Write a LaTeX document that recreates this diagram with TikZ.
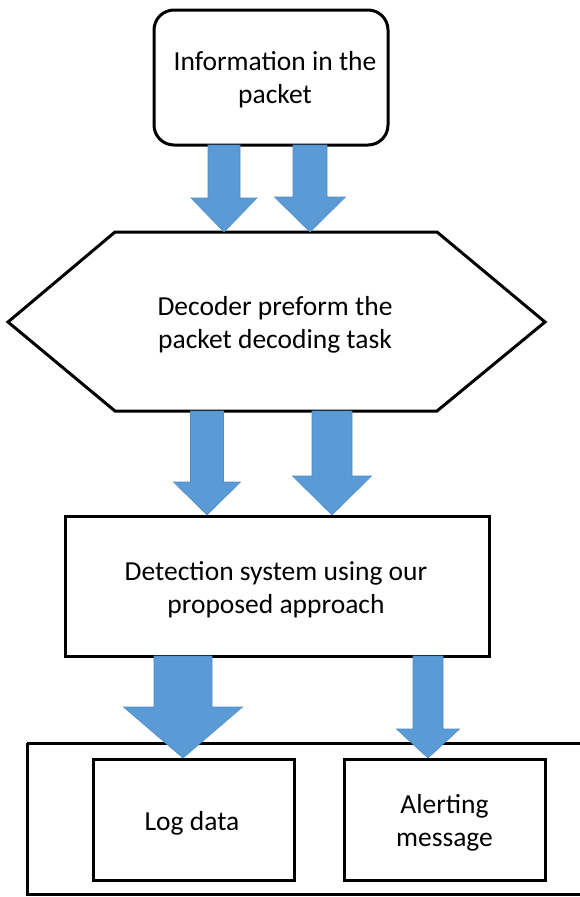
\documentclass[tikz,border=0pt]{standalone}
\usepackage{fontspec}
\setmainfont{Carlito}
\begin{document}
\begin{tikzpicture}[x=1pt,y=-1pt,
  box/.style={draw=black,line width=3pt,fill=white},
  label/.style={font=\fontsize{27.5}{33}\selectfont,align=center,inner sep=0pt},
  arrowfill/.style={fill={rgb,255:red,91;green,155;blue,213},draw={rgb,255:red,80;green,140;blue,200},line width=0.6pt}]
\useasboundingbox (0,0) rectangle (579,897);
\newcommand\blockarrow[7]{% centre x, top y, tip y, shaft half width, head half width, head start y, name
  \fill[arrowfill] ({#1-#4},#2) -- ({#1+#4},#2) -- ({#1+#4},#6) -- ({#1+#5},#6)
    -- (#1,#3) coordinate (#7) -- ({#1-#5},#6) -- ({#1-#4},#6) -- cycle;}

% packet information
\draw[box,rounded corners=20pt] (154,10) rectangle (388,145);
\node[label] (info) at (275,80) {Information in the\\packet};

% decoder
\draw[box,line join=miter] (115,232) -- (437,232) -- (545,322) -- (437,411)
  -- (115,411) -- (8,322) -- cycle;
\node[label] (dec) at (275,325) {Decoder preform the\\packet decoding task};

% detection system
\draw[box] (65,516) rectangle (489,656);
\node[label] (det) at (276,590) {Detection system using our\\proposed approach};

% outputs
\draw[box] (27,743) -- (590,743) (27,743) -- (27,894) -- (590,894);
\draw[box] (93,759) rectangle (294,880);
\node[label] (log) at (192,823) {Log data};
\draw[box] (344,759) rectangle (545,880);
\node[label] (alert) at (444.5,823) {Alerting\\message};

% block arrows
\blockarrow{224}{145}{232}{16}{33}{198}{t1}
\blockarrow{310}{145}{232}{17}{35.5}{197}{t2}
\blockarrow{207}{411}{515}{16.5}{33.5}{482}{t3}
\blockarrow{332}{411}{515}{20}{39.5}{476}{t4}
\blockarrow{183}{656}{758}{29}{59.5}{707}{t5}
\blockarrow{428}{656}{758}{15}{31.5}{729}{t6}
\end{tikzpicture}
\end{document}
